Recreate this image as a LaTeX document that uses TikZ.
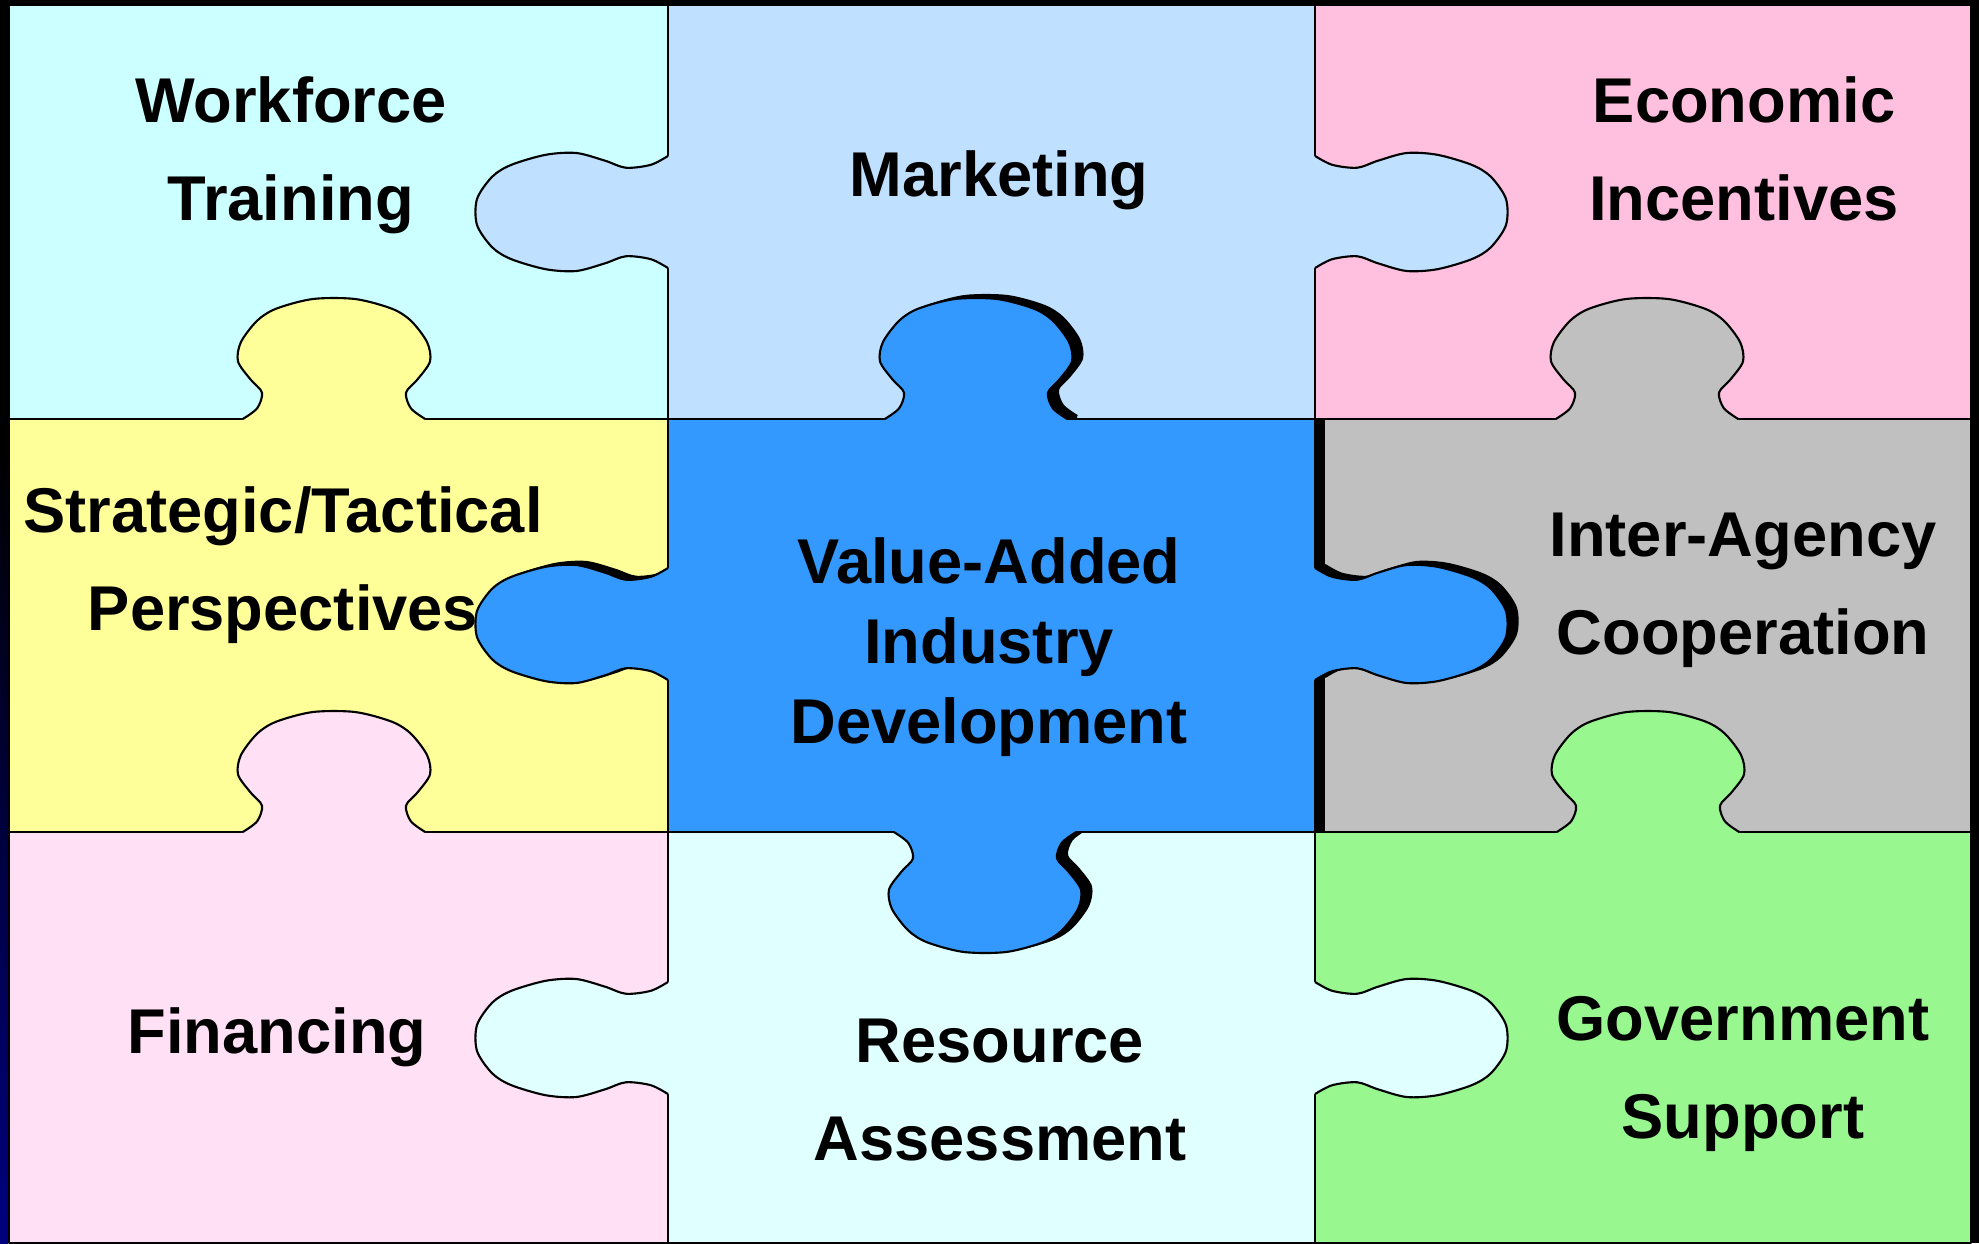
\documentclass[tikz,border=0pt]{standalone}
\usepackage{fontspec}
\setmainfont{Liberation Sans}

\definecolor{cWork}{HTML}{CCFFFF}
\definecolor{cMkt}{HTML}{C0E0FF}
\definecolor{cEcon}{HTML}{FFC0E0}
\definecolor{cStrat}{HTML}{FFFF99}
\definecolor{cValue}{HTML}{3399FF}
\definecolor{cInter}{HTML}{C0C0C0}
\definecolor{cFin}{HTML}{FFE0F5}
\definecolor{cRes}{HTML}{E0FFFF}
\definecolor{cGov}{HTML}{99F78F}
\definecolor{cNavy}{HTML}{000080}

\tikzset{
  edge/.style={line width=0.6pt,line join=round},
  lbl/.style={font=\bfseries\fontsize{18}{27.9}\selectfont,align=center,inner sep=0pt},
  kleft/.style={x={(-1.91cm,0cm)},y={(0cm,0.59cm)}},
  kright/.style={x={(1.91cm,0cm)},y={(0cm,0.59cm)}},
  kup/.style={x={(0cm,1.2cm)},y={(0.96cm,0cm)}},
  kdown/.style={x={(0cm,-1.2cm)},y={(0.96cm,0cm)}}
}

% knob: colour, base point, direction
\newcommand{\knob}[3]{%
  \begin{scope}[shift={#2},#3]
    \fill[#1] (-0.04,-0.95) -- plot[smooth,tension=0.5] coordinates {(0,-0.95) (0.09,-0.8) (0.22,-0.75) (0.33,-0.87) (0.48,-1) (0.64,-0.97) (0.82,-0.8) (0.92,-0.6) (1,-0.22) (1,0.22) (0.92,0.6) (0.82,0.8) (0.64,0.97) (0.48,1) (0.33,0.87) (0.22,0.75) (0.09,0.8) (0,0.95)} -- (-0.04,0.95) -- cycle;
    \draw[edge] plot[smooth,tension=0.5] coordinates {(0,-0.95) (0.09,-0.8) (0.22,-0.75) (0.33,-0.87) (0.48,-1) (0.64,-0.97) (0.82,-0.8) (0.92,-0.6) (1,-0.22) (1,0.22) (0.92,0.6) (0.82,0.8) (0.64,0.97) (0.48,1) (0.33,0.87) (0.22,0.75) (0.09,0.8) (0,0.95)};
  \end{scope}}

\begin{document}
\begin{tikzpicture}[x=0.1mm,y=-0.1mm]
  \useasboundingbox (0,0) rectangle (1979,1243);
  \fill[black] (0,0) rectangle (1979,1243);
  \shade[top color=black,bottom color=cNavy] (0,450) rectangle (8,1243);

  % cells
  \fill[cWork] (9,5) rectangle (668,419);
  \fill[cMkt] (668,5) rectangle (1315,419);
  \fill[cEcon] (1315,5) rectangle (1971,419);
  \fill[cStrat] (9,419) rectangle (668,832);
  \fill[cInter] (1315,419) rectangle (1971,832);
  \fill[cFin] (9,832) rectangle (668,1243);
  \fill[cRes] (668,832) rectangle (1315,1243);
  \fill[cGov] (1315,832) rectangle (1971,1243);

  % shadow of the middle piece
  \fill[black] (678,419) rectangle (1325,832);
  \begin{scope}[shift={(10,-3)}]
    \knob{black}{(976,419)}{kup}
    \knob{black}{(668,624)}{kleft}
    \knob{black}{(1315,624)}{kright}
    \knob{black}{(985,832)}{kdown}
  \end{scope}
  \fill[cValue] (668,419) rectangle (1315,832);

  \draw[edge] (9,5) rectangle (1971,1243);
  \draw[edge] (668,5) -- (668,1243);
  \draw[edge] (1315,5) -- (1315,1243);
  \draw[edge] (9,419) -- (1971,419);
  \draw[edge] (9,832) -- (1971,832);

  % knobs
  \knob{cMkt}{(668,212)}{kleft}
  \knob{cMkt}{(1315,212)}{kright}
  \knob{cStrat}{(334,419)}{kup}
  \knob{cValue}{(976,419)}{kup}
  \knob{cInter}{(1647,419)}{kup}
  \knob{cValue}{(668,624)}{kleft}
  \knob{cValue}{(1315,624)}{kright}
  \knob{cFin}{(334,832)}{kup}
  \knob{cValue}{(985,832)}{kdown}
  \knob{cGov}{(1648,832)}{kup}
  \knob{cRes}{(668,1038)}{kleft}
  \knob{cRes}{(1315,1038)}{kright}

  % labels
  \node[lbl] (workforce) at (291,155) {Workforce\\Training};
  \node[lbl] (marketing) at (999,180) {Marketing};
  \node[lbl] (economic) at (1744,149) {Economic\\Incentives};
  \node[lbl] (strategic) at (283,565) {Strategic/Tactical\\Perspectives};
  \node[lbl,font=\bfseries\fontsize{18}{22.8}\selectfont] (value) at (989,647) {Value-Added\\Industry\\Development};
  \node[lbl] (interagency) at (1743,590) {Inter-Agency\\Cooperation};
  \node[lbl] (financing) at (277,1037) {Financing};
  \node[lbl] (resource) at (1000,1090) {Resource\\Assessment};
  \node[lbl] (government) at (1743,1074) {Government\\Support};
\end{tikzpicture}
\end{document}
